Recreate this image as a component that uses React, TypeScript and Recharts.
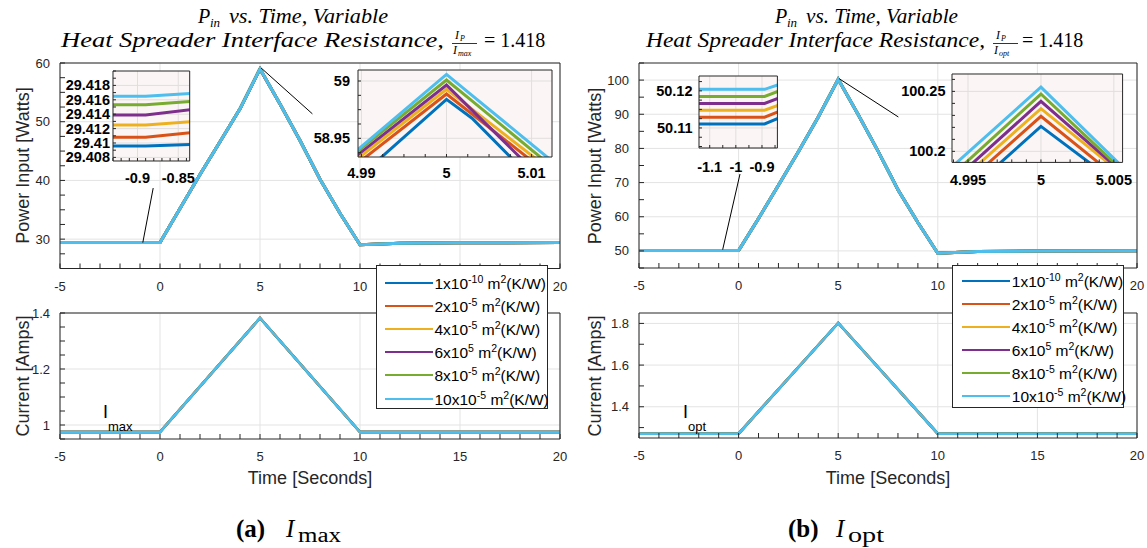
import React from "react";
import {
  LineChart,
  Line,
  XAxis,
  YAxis,
  CartesianGrid,
  ReferenceLine,
  ReferenceArea,
} from "recharts";

const COLORS = ["#0072BD", "#D95319", "#EDB120", "#7E2F8E", "#77AC30", "#4DBEEE"];
const KEYS = ["r1", "r2", "r4", "r6", "r8", "r10"];
const LEGEND_COEF = ["1", "2", "4", "6", "8", "10"];
const LEGEND_EXP = ["-10", "-5", "-5", "5", "-5", "-5"];

// (a) I_max : power input
const TIME_A = [-5, -1.2, -0.89, -0.83, 0, 1, 2, 3, 4, 4.98, 5, 5.003, 5.02, 6, 7, 8, 9, 10, 12, 15, 20];
const PIN_A_R1 = [29.4096, 29.4096, 29.4096, 29.4098, 29.41, 35.2, 41.0, 46.6, 52.2, 58.852, 58.984, 58.9675, 58.84, 53.0, 46.8, 40.2, 34.4, 29.05, 29.3, 29.38, 29.41];
const PIN_A_R2 = [29.4108, 29.4108, 29.4108, 29.4115, 29.412, 35.2, 41.0, 46.6, 52.2, 58.8727, 58.9887, 58.9712, 58.8723, 53.0, 46.8, 40.2, 34.4, 29.05, 29.3, 29.38, 29.41];
const PIN_A_R4 = [29.4125, 29.4125, 29.4125, 29.413, 29.413, 35.2, 41.0, 46.6, 52.2, 58.8768, 58.9928, 58.9755, 58.8774, 53.0, 46.8, 40.2, 34.4, 29.05, 29.3, 29.38, 29.41];
const PIN_A_R6 = [29.4139, 29.4139, 29.4139, 29.4147, 29.4147, 35.2, 41.0, 46.6, 52.2, 58.8797, 58.9965, 58.9746, 58.8505, 53.0, 46.8, 40.2, 34.4, 29.05, 29.3, 29.38, 29.41];
const PIN_A_R8 = [29.4153, 29.4153, 29.4153, 29.4158, 29.4158, 35.2, 41.0, 46.6, 52.2, 58.8815, 59.0009, 58.9826, 58.8789, 53.0, 46.8, 40.2, 34.4, 29.05, 29.3, 29.38, 29.41];
const PIN_A_R10 = [29.4165, 29.4165, 29.4165, 29.4169, 29.4169, 35.2, 41.0, 46.6, 52.2, 58.8798, 59.0058, 58.9875, 58.8838, 53.0, 46.8, 40.2, 34.4, 29.05, 29.3, 29.38, 29.41];

// (b) I_opt : power input
const TIME_B = [-5, -1.2, -0.89, -0.83, 0, 1, 2, 3, 4, 4.99, 5, 5.01, 6, 7, 8, 9, 10, 12, 15, 20];
const PIN_B_R1 = [50.1111, 50.1111, 50.1111, 50.1128, 50.113, 59.5, 69.2, 79.0, 89.2, 100.1118, 100.2208, 100.1298, 89.9, 79.2, 67.9, 58.3, 49.3, 49.8, 50.0, 50.05];
const PIN_B_R2 = [50.1129, 50.1129, 50.1129, 50.1146, 50.115, 59.5, 69.2, 79.0, 89.2, 100.1212, 100.2292, 100.1312, 89.9, 79.2, 67.9, 58.3, 49.3, 49.8, 50.0, 50.05];
const PIN_B_R4 = [50.1148, 50.1148, 50.1148, 50.1163, 50.1165, 59.5, 69.2, 79.0, 89.2, 100.1276, 100.2356, 100.1376, 89.9, 79.2, 67.9, 58.3, 49.3, 49.8, 50.0, 50.05];
const PIN_B_R6 = [50.1166, 50.1166, 50.1166, 50.1182, 50.1185, 59.5, 69.2, 79.0, 89.2, 100.1317, 100.2417, 100.1357, 89.9, 79.2, 67.9, 58.3, 49.3, 49.8, 50.0, 50.05];
const PIN_B_R8 = [50.1185, 50.1185, 50.1185, 50.1201, 50.1205, 59.5, 69.2, 79.0, 89.2, 100.1368, 100.2478, 100.1338, 89.9, 79.2, 67.9, 58.3, 49.3, 49.8, 50.0, 50.05];
const PIN_B_R10 = [50.1204, 50.1204, 50.1204, 50.1218, 50.122, 59.5, 69.2, 79.0, 89.2, 100.1446, 100.2536, 100.1346, 89.9, 79.2, 67.9, 58.3, 49.3, 49.8, 50.0, 50.05];

// current, identical for every resistance
const TIME_I = [-5, 0, 5, 10, 20];
const CUR_A = [0.975, 0.975, 1.382, 0.975, 0.975];
const CUR_B = [1.271, 1.271, 1.802, 1.271, 1.271];

// tick labels
const X_MAJOR = [-5, 0, 5, 10, 15, 20];
const PIN_A_MAJOR = [30, 40, 50, 60];
const PIN_B_MAJOR = [50, 60, 70, 80, 90, 100];
const CUR_A_MAJOR = [1, 1.2, 1.4];
const CUR_B_MAJOR = [1.4, 1.6, 1.8];
const ZA_LEFT_X = [-0.9, -0.85];
const ZA_LEFT_Y = [29.408, 29.41, 29.412, 29.414, 29.416, 29.418];
const ZA_RIGHT_X = [4.99, 5, 5.01];
const ZA_RIGHT_Y = [58.95, 59];
const ZB_LEFT_X = [-1.1, -1, -0.9];
const ZB_LEFT_Y = [50.11, 50.12];
const ZB_RIGHT_X = [4.995, 5, 5.005];
const ZB_RIGHT_Y = [100.2, 100.25];

const SANS = "'Liberation Sans', Arial, Helvetica, sans-serif";
const SERIF = "'Liberation Serif', 'Times New Roman', serif";
const AX = "#262626";

function toRows(time: number[], series: number[][]) {
  return time.map((t, i) => {
    const r: any = { t };
    KEYS.forEach((k, j) => (r[k] = series[j][i]));
    return r;
  });
}
const ROWS_A = toRows(TIME_A, [PIN_A_R1, PIN_A_R2, PIN_A_R4, PIN_A_R6, PIN_A_R8, PIN_A_R10]);
const ROWS_B = toRows(TIME_B, [PIN_B_R1, PIN_B_R2, PIN_B_R4, PIN_B_R6, PIN_B_R8, PIN_B_R10]);
const ROWS_IA = toRows(TIME_I, KEYS.map(() => CUR_A));
const ROWS_IB = toRows(TIME_I, KEYS.map(() => CUR_B));

function minorTicks(d: [number, number], step: number) {
  const out: number[] = [];
  let k = Math.ceil(d[0] / step - 1e-9);
  while (k * step <= d[1] + 1e-9) {
    out.push(+(k * step).toFixed(6));
    k++;
  }
  return out;
}
const isMajor = (arr: number[], v: number) => arr.some((m) => Math.abs(m - v) < 1e-9);

type Box = { l: number; t: number; r: number; b: number };
const PAD_T = 10;
const PAD_R = 30;

function PlotBox(p: {
  box: Box;
  yW: number;
  xH: number;
  data: any[];
  lw: number;
  xDomain: [number, number];
  yDomain: [number, number];
  xMajor: number[];
  yMajor: number[];
  xStep: number;
  yStep: number;
  tickLen: number;
  xGap: number;
  yGap: number;
  fontSize: number;
  bold?: boolean;
  bg: string;
  grid: string;
  children?: React.ReactNode;
}) {
  const width = p.yW + (p.box.r - p.box.l) + 1 + PAD_R;
  const height = PAD_T + 1 + (p.box.b - p.box.t) + p.xH;
  const xTicks = minorTicks(p.xDomain, p.xStep);
  const yTicks = minorTicks(p.yDomain, p.yStep);
  const color = p.bold ? "#000" : AX;
  const weight = p.bold ? "bold" : "normal";
  const xTick = (t: any) =>
    isMajor(p.xMajor, t.payload.value) ? (
      <text x={t.x} y={t.y} dy="0.71em" textAnchor="middle" fontFamily={SANS} fontSize={p.fontSize} fontWeight={weight} fill={color}>
        {String(t.payload.value)}
      </text>
    ) : (
      <g />
    );
  const yTick = (t: any) =>
    isMajor(p.yMajor, t.payload.value) ? (
      <text x={t.x} y={t.y} dy="0.35em" textAnchor="end" fontFamily={SANS} fontSize={p.fontSize} fontWeight={weight} fill={color}>
        {String(t.payload.value)}
      </text>
    ) : (
      <g />
    );
  return (
    <div style={{ position: "absolute", left: p.box.l - p.yW, top: p.box.t - 1 - PAD_T }}>
      <LineChart width={width} height={height} data={p.data} margin={{ top: PAD_T, right: PAD_R, bottom: 0, left: 0 }}>
        <CartesianGrid verticalValues={p.xMajor} horizontalValues={p.yMajor} stroke={p.grid} fill={p.bg} fillOpacity={1} />
        <XAxis dataKey="t" type="number" domain={p.xDomain} allowDataOverflow ticks={xTicks} interval={0} height={p.xH}
          tickSize={-p.tickLen} tickMargin={p.tickLen + p.xGap} axisLine={{ stroke: AX }} tickLine={{ stroke: AX }} tick={xTick} />
        <XAxis xAxisId="top" orientation="top" type="number" domain={p.xDomain} allowDataOverflow ticks={xTicks} interval={0}
          height={1} tickSize={-p.tickLen} tick={false} axisLine={{ stroke: AX }} tickLine={{ stroke: AX }} />
        <YAxis type="number" domain={p.yDomain} allowDataOverflow ticks={yTicks} interval={0} width={p.yW}
          tickSize={-p.tickLen} tickMargin={p.tickLen + p.yGap} axisLine={{ stroke: AX }} tickLine={{ stroke: AX }} tick={yTick} />
        <YAxis yAxisId="right" orientation="right" type="number" domain={p.yDomain} allowDataOverflow ticks={yTicks} interval={0}
          width={1} tickSize={-p.tickLen} tick={false} axisLine={{ stroke: AX }} tickLine={{ stroke: AX }} />
        {KEYS.map((k, i) => (
          <Line key={k} dataKey={k} stroke={COLORS[i]} strokeWidth={p.lw} dot={false} isAnimationActive={false} />
        ))}
        {p.children}
      </LineChart>
    </div>
  );
}

function LegendBox({ left, top, width, height, first, step, lineL, lineR }: any) {
  return (
    <div style={{ position: "absolute", left, top, width, height, boxSizing: "border-box", border: `1px solid ${AX}`, background: "#fff", fontFamily: SANS, fontSize: 15.5, color: "#000" }}>
      {KEYS.map((k, i) => (
        <div key={k} style={{ position: "absolute", left: 0, top: Math.round(first + i * step) - 10, height: 20, width: "100%" }}>
          <div style={{ position: "absolute", left: lineL, width: lineR - lineL, top: 9, height: 2, background: COLORS[i] }} />
          <div style={{ position: "absolute", left: lineR + 1.5, top: 1, whiteSpace: "nowrap", lineHeight: "19px" }}>
            {LEGEND_COEF[i]}x10<span style={{ fontSize: 10.5, position: "relative", top: -6 }}>{LEGEND_EXP[i]}</span> m
            <span style={{ fontSize: 10.5, position: "relative", top: -6 }}>2</span>(K/W)
          </div>
        </div>
      ))}
    </div>
  );
}

// title drawn with fixed extents so the math-style spacing matches
function Title({ p, l2, frac, eq, end, den }: { p: number; l2: number; frac: number; eq: number; end: number; den: string }) {
  return (
    <g fontFamily={SERIF} fill="#000">
      <text x={p} y={23} fontSize={20} fontStyle="italic">P</text>
      <text x={p + 12} y={27} fontSize={13} fontStyle="italic">in</text>
      <text x={p + 31} y={23} fontSize={20} fontStyle="italic" textLength={end - p - 31} lengthAdjust="spacingAndGlyphs">
        vs. Time, Variable
      </text>
      <text x={l2} y={47} fontSize={21} fontStyle="italic" textLength={frac - l2 - 8} lengthAdjust="spacingAndGlyphs">
        Heat Spreader Interface Resistance,
      </text>
      <text x={frac + 3} y={39} fontSize={12} fontStyle="italic">I</text>
      <text x={frac + 8} y={41} fontSize={8} fontStyle="italic">P</text>
      <line x1={frac} x2={frac + 25} y1={43.5} y2={43.5} stroke="#000" strokeWidth={0.8} />
      <text x={frac + 1} y={54} fontSize={12} fontStyle="italic">I</text>
      <text x={frac + 6} y={56} fontSize={8} fontStyle="italic">{den}</text>
      <text x={eq} y={47} fontSize={20}>= 1.418</text>
    </g>
  );
}

export default function App() {
  const mainCommon = { yW: 60, xH: 34, lw: 3, xStep: 1, tickLen: 5, xGap: 13, yGap: 10, fontSize: 13, bg: "#fff", grid: "#e3e3e3" };
  const zoomCommon = { yW: 70, xH: 32, lw: 3, tickLen: 3, fontSize: 14.5, bold: true, bg: "#fbf6f5", grid: "#e2dede" };
  return (
    <div style={{ position: "absolute", left: 0, top: 0, width: 1147, height: 548, background: "#fff", overflow: "hidden" }}>
      {/* panel (a) */}
      <PlotBox {...mainCommon} box={{ l: 60, t: 62.5, r: 560, b: 268 }} data={ROWS_A} xDomain={[-5, 20]} yDomain={[25, 60]}
        xMajor={X_MAJOR} yMajor={PIN_A_MAJOR} yStep={2.5}>
        <ReferenceLine segment={[{ x: -0.86, y: 29.41 }, { x: -0.34, y: 38.7 }]} stroke="#000" strokeWidth={1} ifOverflow="visible" />
        <ReferenceLine segment={[{ x: 5.05, y: 59.17 }, { x: 7.62, y: 51.34 }]} stroke="#000" strokeWidth={1} ifOverflow="visible" />
        <ReferenceArea x1={-0.93} x2={-0.836} y1={29.4075} y2={29.42} stroke="#000" fill="none" ifOverflow="visible" />
      </PlotBox>
      <PlotBox {...mainCommon} lw={2.5} box={{ l: 60, t: 313.3, r: 560, b: 439.3 }} data={ROWS_IA} xDomain={[-5, 20]} yDomain={[0.95, 1.4]}
        xMajor={X_MAJOR} yMajor={CUR_A_MAJOR} yStep={0.05} />
      <PlotBox {...zoomCommon} box={{ l: 113.3, t: 71.3, r: 190, b: 161.3 }} data={ROWS_A} xDomain={[-0.93, -0.836]} yDomain={[29.4075, 29.42]}
        xMajor={ZA_LEFT_X} yMajor={ZA_LEFT_Y} xStep={0.01} yStep={0.001} xGap={12} yGap={3} />
      <PlotBox {...zoomCommon} box={{ l: 358, t: 70, r: 552, b: 157 }} data={ROWS_A} xDomain={[4.9896, 5.0124]} yDomain={[58.9337, 59.0096]}
        xMajor={ZA_RIGHT_X} yMajor={ZA_RIGHT_Y} xStep={0.0025} yStep={0.0125} xGap={11} yGap={8} />

      {/* panel (b) */}
      <PlotBox {...mainCommon} box={{ l: 639, t: 63.3, r: 1137, b: 268.3 }} data={ROWS_B} xDomain={[-5, 20]} yDomain={[45, 105]}
        xMajor={X_MAJOR} yMajor={PIN_B_MAJOR} yStep={5}>
        <ReferenceLine segment={[{ x: -0.8, y: 50.36 }, { x: 0.07, y: 72.5 }]} stroke="#000" strokeWidth={1} ifOverflow="visible" />
        <ReferenceLine segment={[{ x: 5.05, y: 100.4 }, { x: 8.02, y: 89.2 }]} stroke="#000" strokeWidth={1} ifOverflow="visible" />
        <ReferenceArea x1={-1.14} x2={-0.84} y1={50.105} y2={50.124} stroke="#000" fill="none" ifOverflow="visible" />
      </PlotBox>
      <PlotBox {...mainCommon} lw={2.5} box={{ l: 639, t: 313, r: 1137, b: 438 }} data={ROWS_IB} xDomain={[-5, 20]} yDomain={[1.25, 1.85]}
        xMajor={X_MAJOR} yMajor={CUR_B_MAJOR} yStep={0.1} />
      <PlotBox {...zoomCommon} box={{ l: 699.3, t: 75.7, r: 777.7, b: 147.7 }} data={ROWS_B} xDomain={[-1.141, -0.841]} yDomain={[50.1046, 50.124]}
        xMajor={ZB_LEFT_X} yMajor={ZB_LEFT_Y} xStep={0.05} yStep={0.0025} xGap={14} yGap={6.5} />
      <PlotBox {...zoomCommon} box={{ l: 951.7, t: 74.3, r: 1122.3, b: 162.7 }} data={ROWS_B} xDomain={[4.9939, 5.0056]} yDomain={[100.1908, 100.2645]}
        xMajor={ZB_RIGHT_X} yMajor={ZB_RIGHT_Y} xStep={0.001} yStep={0.01} xGap={12} yGap={6.5} />

      <svg width={1147} height={548} style={{ position: "absolute", left: 0, top: 0, pointerEvents: "none" }}>
        <Title p={198} l2={61} frac={452} eq={484} end={388} den="max" />
        <Title p={775} l2={646} frac={993} eq={1022} end={958} den="opt" />
        <g fontFamily={SANS} fontSize={18} fill={AX} textAnchor="middle">
          <text transform="translate(23,165.5) rotate(-90)" dy="0.35em">Power Input [Watts]</text>
          <text transform="translate(23,376) rotate(-90)" dy="0.35em">Current [Amps]</text>
          <text x={310} y={484}>Time [Seconds]</text>
          <text transform="translate(595,166) rotate(-90)" dy="0.35em">Power Input [Watts]</text>
          <text transform="translate(595,376) rotate(-90)" dy="0.35em">Current [Amps]</text>
          <text x={888} y={484}>Time [Seconds]</text>
        </g>
        <g fontFamily={SANS} fill="#000">
          <text x={103} y={418} fontSize={18}>I</text>
          <text x={108} y={431} fontSize={13}>max</text>
          <text x={683} y={418} fontSize={18}>I</text>
          <text x={688} y={431} fontSize={13}>opt</text>
        </g>
        <g fontFamily={SERIF} fontSize={25} fill="#000">
          <text x={236} y={537} fontWeight="bold">(a)</text>
          <text x={286} y={537} fontStyle="italic">I</text>
          <text x={298} y={542} fontSize={20} textLength={43} lengthAdjust="spacingAndGlyphs">max</text>
          <text x={788} y={537} fontWeight="bold">(b)</text>
          <text x={836} y={537} fontStyle="italic">I</text>
          <text x={848} y={542} fontSize={20} textLength={36} lengthAdjust="spacingAndGlyphs">opt</text>
        </g>
      </svg>

      <LegendBox left={375.7} top={265} width={172.6} height={144.3} first={16.5} step={23.2} lineL={8.3} lineR={56.3} />
      <LegendBox left={952.3} top={265} width={172} height={142.7} first={15} step={22.9} lineL={8.4} lineR={57} />
    </div>
  );
}
